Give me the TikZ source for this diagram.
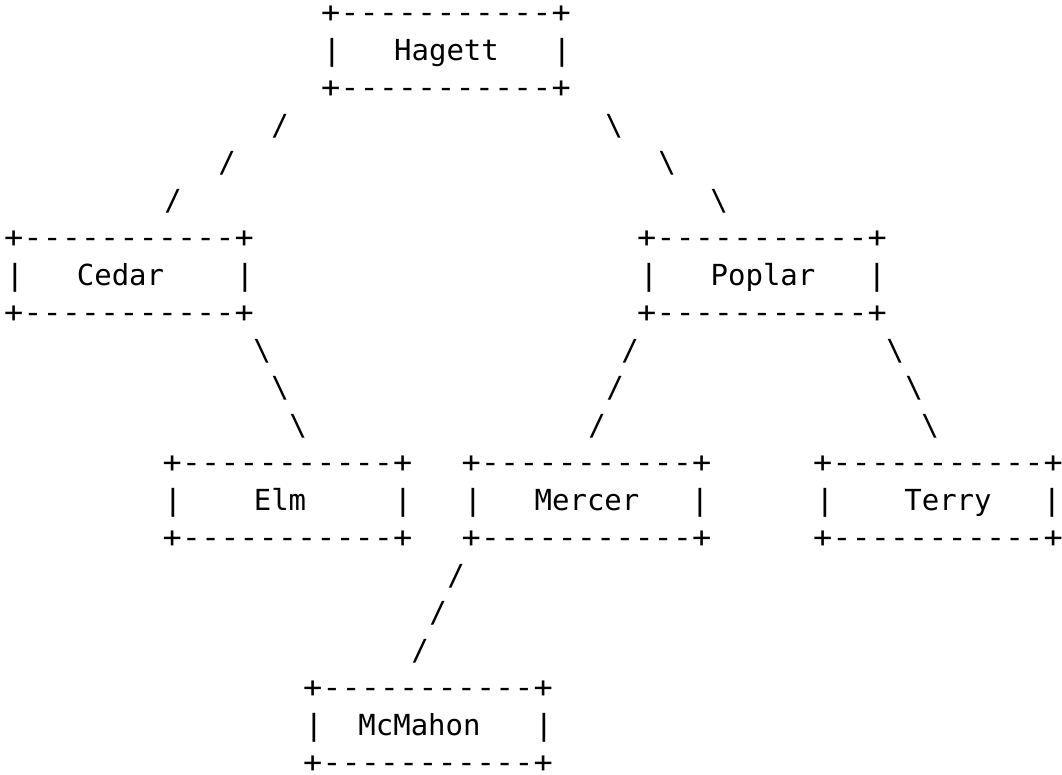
\documentclass[tikz,border=0pt]{standalone}
\usepackage{fontspec}
\newfontfamily\asciiwide[FakeStretch=1.1]{DejaVu Sans Mono}
\newfontfamily\asciifont{DejaVu Sans Mono}
\newcommand\boxedge{+-\kern0pt-\kern0pt-\kern0pt-\kern0pt-\kern0pt-\kern0pt-\kern0pt-\kern0pt-\kern0pt-\kern0pt-+}
% #1 name, #2 box centre x, #3 baseline of top edge, #4 label centre x, #5 label, #6 left bar x, #7 right bar x
\newcommand\treebox[7]{%
  \node[edgerow] (#1-top) at (#2,#3) {\boxedge};
  \node[barchar] (#1-l) at (#6,#3+37.5) {|};
  \node[lbl] (#1) at (#4,#3+37.5) {#5};
  \node[barchar] (#1-r) at (#7,#3+37.5) {|};
  \node[edgerow] (#1-bot) at (#2,#3+75) {\boxedge};
}
\tikzset{
  glyph/.style={inner sep=0pt, outer sep=0pt, anchor=base, text=black},
  edgerow/.style={glyph, font=\asciiwide\fontsize{29}{35}\selectfont},
  barchar/.style={glyph, font=\asciiwide\fontsize{29}{35}\selectfont},
  lbl/.style={glyph, font=\asciifont\fontsize{29}{35}\selectfont},
  slashchar/.style={glyph, font=\asciifont\fontsize{29}{35}\selectfont},
}
\begin{document}
\begin{tikzpicture}[x=1pt, y=-1pt]
\useasboundingbox[fill=white] (0,0) rectangle (1062,775);
\begin{scope}[yshift=2.5pt]
% boxes
\treebox{hagett}{446}{25.3}{446.5}{Hagett}{332}{562}
\treebox{cedar}{129}{250.3}{120.5}{Cedar}{15}{245}
\treebox{poplar}{762}{250.3}{763}{Poplar}{649}{877}
\treebox{elm}{287.5}{475.3}{280}{Elm}{173}{403}
\treebox{mercer}{586.5}{475.3}{587}{Mercer}{473}{700}
\treebox{terry}{938}{475.3}{948}{Terry}{825}{1052}
\treebox{mcmahon}{428}{700.3}{419.5}{McMahon}{314}{544}
% Hagett -> Cedar / Poplar
\node[slashchar] (hc1) at (280,137.8) {/};
\node[slashchar] (hc2) at (227,175.3) {/};
\node[slashchar] (hc3) at (173,212.8) {/};
\node[slashchar] (hp1) at (614,137.8) {\textbackslash};
\node[slashchar] (hp2) at (667,175.3) {\textbackslash};
\node[slashchar] (hp3) at (719,212.8) {\textbackslash};
% Cedar -> Elm
\node[slashchar] (ce1) at (262,362.8) {\textbackslash};
\node[slashchar] (ce2) at (280,400.3) {\textbackslash};
\node[slashchar] (ce3) at (298,437.8) {\textbackslash};
% Poplar -> Mercer / Terry
\node[slashchar] (pm1) at (630,362.8) {/};
\node[slashchar] (pm2) at (615,400.3) {/};
\node[slashchar] (pm3) at (597,437.8) {/};
\node[slashchar] (pt1) at (895,362.8) {\textbackslash};
\node[slashchar] (pt2) at (914,400.3) {\textbackslash};
\node[slashchar] (pt3) at (930,437.8) {\textbackslash};
% Mercer -> McMahon
\node[slashchar] (mm1) at (456,587.8) {/};
\node[slashchar] (mm2) at (438,625.3) {/};
\node[slashchar] (mm3) at (420,662.8) {/};
\end{scope}
\end{tikzpicture}
\end{document}
